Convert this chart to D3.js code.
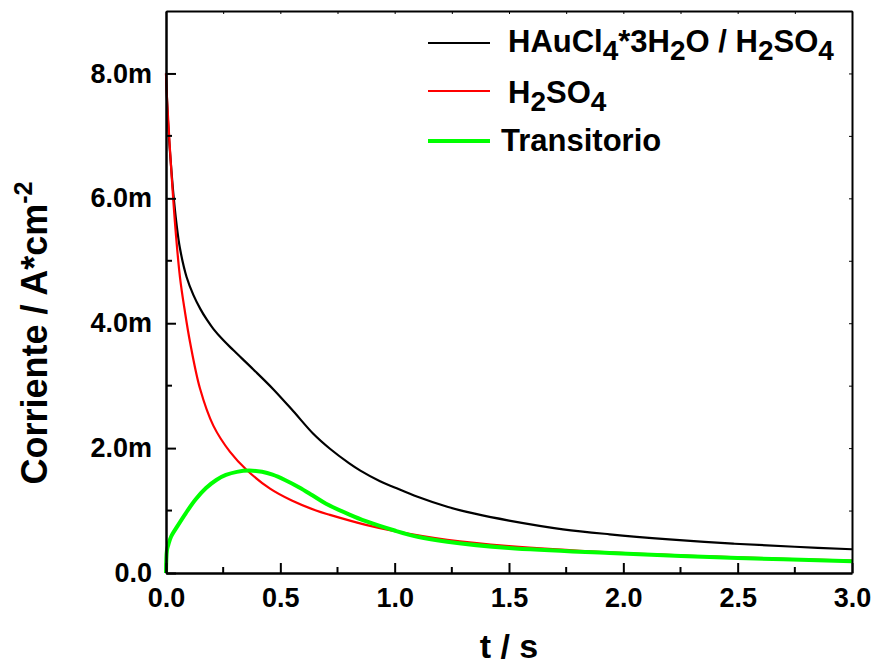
<!DOCTYPE html>
<html>
<head>
<meta charset="utf-8">
<script src="https://cdn.jsdelivr.net/npm/d3@7"></script>
<style>
  body { margin: 0; background: #fff; }
  svg { display: block; }
  text { font-family: "Liberation Sans", Arial, sans-serif; font-weight: bold; fill: #000; }
</style>
</head>
<body>
<svg id="chart" width="874" height="665"></svg>
<script>
// ---- Data (time in s, current in mA) ----
const blackT = [0, 0.01, 0.02, 0.032, 0.045, 0.061, 0.09, 0.12, 0.15, 0.178, 0.207, 0.25, 0.294, 0.382, 0.47, 0.557, 0.644, 0.717, 0.8, 0.85, 0.936, 1.0, 1.1, 1.23, 1.35, 1.5, 1.736, 1.94, 2.2, 2.48, 2.75, 3.0];
const blackI = [8.0, 7.15, 6.62, 6.08, 5.62, 5.2, 4.74, 4.45, 4.23, 4.06, 3.91, 3.73, 3.57, 3.26, 2.94, 2.59, 2.23, 1.99, 1.76, 1.64, 1.47, 1.37, 1.22, 1.06, 0.95, 0.84, 0.7, 0.62, 0.54, 0.47, 0.42, 0.38];

const redT = [0, 0.005, 0.017, 0.039, 0.061, 0.083, 0.105, 0.149, 0.207, 0.28, 0.353, 0.455, 0.55, 0.656, 0.717, 0.874, 1.0, 1.23, 1.5, 1.94, 2.5, 3.0];
const redI = [8.0, 7.55, 6.8, 5.62, 4.74, 4.18, 3.7, 2.95, 2.36, 1.94, 1.65, 1.35, 1.16, 1.0, 0.93, 0.77, 0.67, 0.53, 0.43, 0.33, 0.25, 0.2];

const greenT = [0, 0.004, 0.01, 0.022, 0.05, 0.087, 0.13, 0.175, 0.22, 0.262, 0.31, 0.364, 0.42, 0.466, 0.52, 0.583, 0.64, 0.7, 0.8, 0.874, 1.0, 1.1, 1.23, 1.5, 1.94, 2.5, 3.0];
const greenI = [0, 0.36, 0.45, 0.58, 0.75, 0.96, 1.18, 1.36, 1.49, 1.57, 1.62, 1.64, 1.62, 1.575, 1.49, 1.37, 1.245, 1.11, 0.94, 0.83, 0.68, 0.58, 0.5, 0.4, 0.32, 0.24, 0.19];

const xTicks = [0, 0.5, 1.0, 1.5, 2.0, 2.5, 3.0];
const yTicks = [0, 2, 4, 6, 8];
const xDomain = [0, 3];
const yDomain = [0, 9];

const seriesNames = ["HAuCl4*3H2O / H2SO4", "H2SO4", "Transitorio"];
const seriesColors = ["#000000", "#ff0000", "#00ff00"];

// ---- Layout ----
const W = 874, H = 665;
const m = { left: 166, right: 22, top: 11, bottom: 92 };
const iw = W - m.left - m.right, ih = H - m.top - m.bottom;

const svg = d3.select("#chart");
const x = d3.scaleLinear().domain(xDomain).range([0, iw]);
const y = d3.scaleLinear().domain(yDomain).range([ih, 0]);

const g = svg.append("g").attr("transform", `translate(${m.left},${m.top})`);

svg.append("defs").append("clipPath").attr("id", "clip")
  .append("rect").attr("x", -2).attr("y", -2).attr("width", iw + 4).attr("height", ih + 4);

// ---- Lines ----
const mk = (T, I) => T.map((t, i) => [t, I[i]]);
const series = [
  { data: mk(blackT, blackI), color: seriesColors[0], w: 2.2 },
  { data: mk(redT, redI), color: seriesColors[1], w: 2.2 },
  { data: mk(greenT, greenI), color: seriesColors[2], w: 4 }
];
const line = d3.line().x(d => x(d[0])).y(d => y(d[1])).curve(d3.curveCatmullRom.alpha(0.5));
const lg = g.append("g").attr("clip-path", "url(#clip)");
series.forEach(s => {
  lg.append("path").attr("d", line(s.data)).attr("fill", "none")
    .attr("stroke", s.color).attr("stroke-width", s.w).attr("stroke-linejoin", "round");
});

// ---- Axes ----
const minorX = d3.range(0.25, 3, 0.5);
const minorY = d3.range(1, 9, 2);
const FONT = '"Liberation Sans", Arial, sans-serif';

function styleAxis(sel, w) {
  sel.select(".domain").attr("stroke", "#000").attr("stroke-width", w);
  sel.selectAll(".tick line").attr("stroke", "#000").attr("stroke-width", 2);
}

// bottom
const xb = g.append("g").attr("transform", `translate(0,${ih})`)
  .call(d3.axisBottom(x).tickValues(xTicks).tickSizeInner(-10).tickSizeOuter(0).tickPadding(0)
    .tickFormat(d3.format(".1f")));
styleAxis(xb, 2.5);
xb.attr("font-size", 27).attr("font-family", FONT);
xb.selectAll(".tick text").attr("font-size", 27).attr("y", 34).attr("dy", 0)
  .style("font-family", FONT).style("font-weight", "bold");
xb.append("g").selectAll("line").data(minorX).join("line")
  .attr("x1", d => x(d)).attr("x2", d => x(d)).attr("y1", 0).attr("y2", -6)
  .attr("stroke", "#000").attr("stroke-width", 2);

// left
const yl = g.append("g")
  .call(d3.axisLeft(y).tickValues(yTicks).tickSizeInner(-10).tickSizeOuter(0).tickPadding(14)
    .tickFormat(d => d === 0 ? "0.0" : d3.format(".1f")(d) + "m"));
styleAxis(yl, 2.5);
yl.attr("font-size", 27).attr("font-family", FONT);
yl.selectAll(".tick text").attr("font-size", 27).attr("x", -14)
  .style("font-family", FONT).style("font-weight", "bold");
yl.append("g").selectAll("line").data(minorY).join("line")
  .attr("x1", 0).attr("x2", 6).attr("y1", d => y(d)).attr("y2", d => y(d))
  .attr("stroke", "#000").attr("stroke-width", 2);

// top
const xt = g.append("g")
  .call(d3.axisTop(x).tickValues(d3.range(0, 3.01, 0.25)).tickSizeInner(-3).tickSizeOuter(0).tickFormat(""));
styleAxis(xt, 2);
xt.selectAll(".tick line").attr("stroke-width", 1);
xt.selectAll(".tick text").remove();

// right
const yr = g.append("g").attr("transform", `translate(${iw},0)`)
  .call(d3.axisRight(y).tickValues(d3.range(0, 9.01, 1)).tickSizeInner(-3).tickSizeOuter(0).tickFormat(""));
styleAxis(yr, 2);
yr.selectAll(".tick line").attr("stroke-width", 1);
yr.selectAll(".tick text").remove();

// ---- Axis titles ----
svg.append("text").attr("x", m.left + x(1.5)).attr("y", 658).attr("text-anchor", "middle")
  .attr("font-size", 34).text("t / s");

const yt = svg.append("text").attr("transform", `translate(47,333) rotate(-90)`)
  .attr("text-anchor", "middle").attr("font-size", 36);
yt.append("tspan").text("Corriente / A*cm");
yt.append("tspan").attr("font-size", 25).attr("dy", -15).text("-2");

// ---- Legend ----
const legendY = [43, 91, 141];
const legend = svg.append("g");
legendY.forEach((ly, i) => {
  legend.append("line").attr("x1", 428).attr("x2", 490).attr("y1", ly).attr("y2", ly)
    .attr("stroke", seriesColors[i]).attr("stroke-width", i === 2 ? 4 : 2.2);
});
function chem(sel, parts) {
  let off = 0;
  parts.forEach(p => {
    const target = p.sub ? 8 : 0;
    const ts = sel.append("tspan").attr("dy", target - off).text(p.t);
    if (p.sub) ts.attr("font-size", 28);
    off = target;
  });
}
const t1 = legend.append("text").attr("x", 508).attr("y", 52).attr("font-size", 31);
chem(t1, [{t: "HAuCl"}, {t: "4", sub: true}, {t: "*3H"}, {t: "2", sub: true}, {t: "O / H"}, {t: "2", sub: true}, {t: "SO"}, {t: "4", sub: true}]);
const t2 = legend.append("text").attr("x", 508).attr("y", 103).attr("font-size", 31);
chem(t2, [{t: "H"}, {t: "2", sub: true}, {t: "SO"}, {t: "4", sub: true}]);
legend.append("text").attr("x", 501).attr("y", 151).attr("font-size", 31).text(seriesNames[2]);
</script>
</body>
</html>
